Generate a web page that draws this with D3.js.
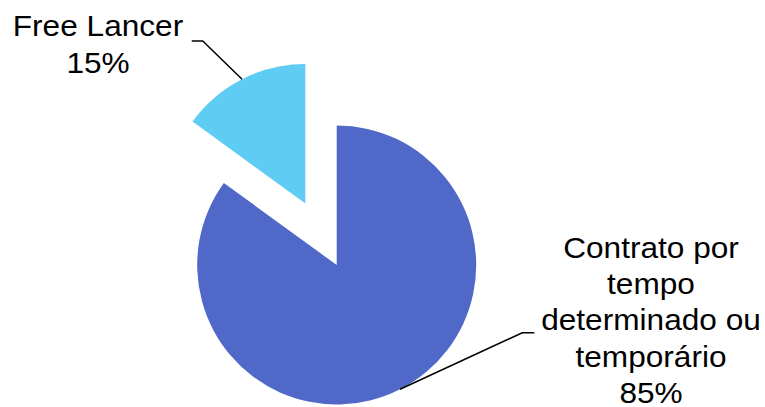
<!DOCTYPE html>
<html>
<head>
<meta charset="utf-8">
<script src="https://cdn.jsdelivr.net/npm/d3@7"></script>
<style>
html,body{margin:0;padding:0;background:#fff;}
svg{display:block;}
text{font-family:"Liberation Sans",Arial,sans-serif;fill:#000;}
</style>
</head>
<body>
<div id="chart"></div>
<script>
const categories = ["Contrato por tempo determinado ou temporário", "Free Lancer"];
const values = [85, 15];
const labelLines = [["Contrato por", "tempo", "determinado ou", "temporário", "85%"], ["Free Lancer", "15%"]];
const colors = ["#5068C8", "#5ECCF3"];
const explode = [0, 69];

const W = 765, H = 407;
const cx = 336.7, cy = 265, R = 139.5;
const svg = d3.select("#chart").append("svg").attr("width", W).attr("height", H);

const pie = d3.pie().sort(null).value(d => d).startAngle(0).endAngle(2 * Math.PI);
const arcs = pie(values);
const arc = d3.arc().innerRadius(0).outerRadius(R);

const g = svg.append("g").attr("transform", `translate(${cx},${cy})`);

arcs.forEach((a, i) => {
  const mid = (a.startAngle + a.endAngle) / 2;
  const ox = Math.sin(mid) * explode[i], oy = -Math.cos(mid) * explode[i];
  g.append("path").attr("d", arc(a)).attr("fill", colors[i])
    .attr("transform", `translate(${ox},${oy})`);
});

// labels with leader lines (label positions as offsets from slice edge point)
const labelCfg = [
  {elbow: [122.3, -56.6], end: 12, textX: 651, baseline: 258.3, lh: 36.1},
  {elbow: [-39.3, -38.3], end: -11, textX: 98, baseline: 36, lh: 37}
];
arcs.forEach((a, i) => {
  const mid = (a.startAngle + a.endAngle) / 2;
  const ox = Math.sin(mid) * explode[i], oy = -Math.cos(mid) * explode[i];
  const sx = cx + ox + Math.sin(mid) * R, sy = cy + oy - Math.cos(mid) * R;
  const c = labelCfg[i];
  const ex = sx + c.elbow[0], ey = sy + c.elbow[1];
  svg.append("polyline")
    .attr("points", `${sx},${sy} ${ex},${ey} ${ex + c.end},${ey}`)
    .attr("fill", "none").attr("stroke", "#000").attr("stroke-width", 1.5);
  const t = svg.append("text").attr("text-anchor", "middle").attr("font-size", 29)
    .attr("transform", `translate(${c.textX},0) scale(1.09,1)`);
  labelLines[i].forEach((ln, j) => {
    t.append("tspan").attr("x", 0).attr("y", c.baseline + j * c.lh).text(ln);
  });
});
</script>
</body>
</html>
